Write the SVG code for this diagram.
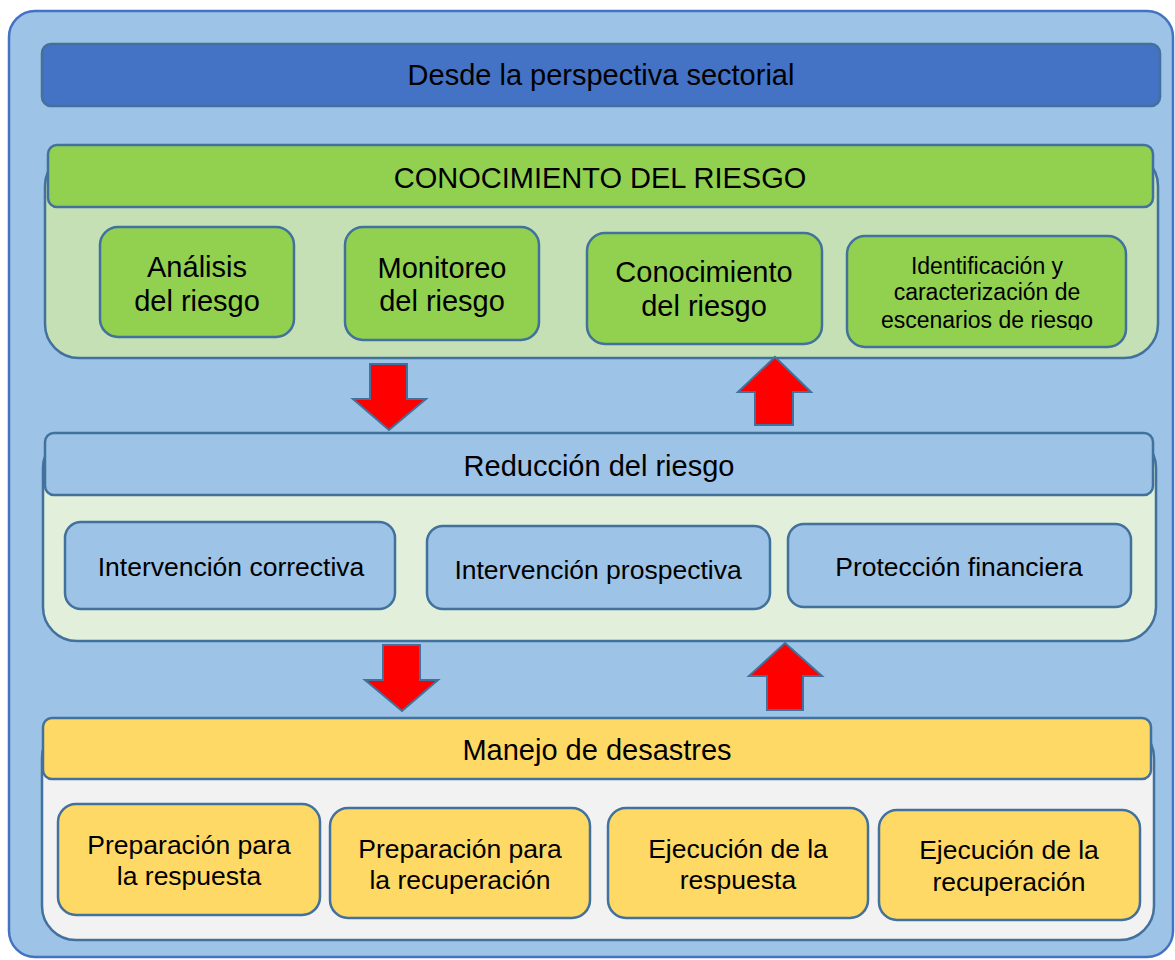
<svg xmlns="http://www.w3.org/2000/svg" width="1175" height="960" viewBox="0 0 1175 960">
<style>
text{font-family:"Liberation Sans",Arial,sans-serif;fill:#000;text-anchor:middle}
.h{font-size:29px}
.t{font-size:26.5px}
.s{font-size:23px}
.box{stroke:#41719C;stroke-width:2.5}
.arrow{fill:#FF0000;stroke:#41719C;stroke-width:2}
</style>
<defs>
<clipPath id="clipId"><rect x="847" y="236" width="280" height="94"/></clipPath>
</defs>
<rect x="9" y="11" width="1164" height="946" rx="26" fill="#9DC3E6" stroke="#4472C4" stroke-width="2.5"/>
<g id="title">
<rect class="box" x="42" y="44" width="1118" height="62" rx="9" fill="#4472C4"/>
<text class="h" x="601" y="85">Desde la perspectiva sectorial</text>
</g>
<g id="conocimiento">
<rect class="box" x="45" y="152" width="1113" height="206" rx="34" fill="#C5E0B4"/>
<rect class="box" x="48" y="145" width="1105" height="62" rx="9" fill="#92D050"/>
<text class="h" x="600" y="188">CONOCIMIENTO DEL RIESGO</text>
</g>
<g id="analisis">
<rect class="box" x="100" y="227" width="194" height="110" rx="18" fill="#92D050"/>
<text class="h" x="197" y="277">Análisis</text>
<text class="h" x="197" y="311">del riesgo</text>
</g>
<g id="monitoreo">
<rect class="box" x="345" y="227" width="194" height="113" rx="18" fill="#92D050"/>
<text class="h" x="442" y="278">Monitoreo</text>
<text class="h" x="442" y="311">del riesgo</text>
</g>
<g id="conoc_riesgo">
<rect class="box" x="587" y="233" width="235" height="111" rx="18" fill="#92D050"/>
<text class="h" x="704" y="282">Conocimiento</text>
<text class="h" x="704" y="316">del riesgo</text>
</g>
<g id="identificacion">
<rect class="box" x="847" y="236" width="279" height="111" rx="18" fill="#92D050"/>
<g clip-path="url(#clipId)">
<text class="s" x="987" y="274">Identificación y</text>
<text class="s" x="987" y="300">caracterización de</text>
<text class="s" x="987" y="328">escenarios de riesgo</text>
</g>
</g>
<g id="reduccion">
<rect class="box" x="43" y="434" width="1113" height="207" rx="34" fill="#E2EFDA"/>
<rect class="box" x="45" y="433" width="1108" height="62" rx="9" fill="#9DC3E6"/>
<text class="h" x="599" y="476">Reducción del riesgo</text>
</g>
<g id="correctiva">
<rect class="box" x="65" y="522" width="330" height="87" rx="16" fill="#9DC3E6"/>
<text class="t" x="231" y="576">Intervención correctiva</text>
</g>
<g id="prospectiva">
<rect class="box" x="427" y="526" width="343" height="83" rx="16" fill="#9DC3E6"/>
<text class="t" x="598" y="579">Intervención prospectiva</text>
</g>
<g id="financiera">
<rect class="box" x="788" y="524" width="343" height="83" rx="16" fill="#9DC3E6"/>
<text class="t" x="959" y="576">Protección financiera</text>
</g>
<g id="manejo">
<rect class="box" x="42" y="724" width="1112" height="216" rx="34" fill="#F2F2F2"/>
<rect class="box" x="43" y="718" width="1108" height="61" rx="9" fill="#FFD966"/>
<text class="h" x="597" y="760">Manejo de desastres</text>
</g>
<g id="prep_respuesta">
<rect class="box" x="58" y="804" width="262" height="111" rx="18" fill="#FFD966"/>
<text class="t" x="189" y="854">Preparación para</text>
<text class="t" x="189" y="885">la respuesta</text>
</g>
<g id="prep_recuperacion">
<rect class="box" x="330" y="808" width="260" height="110" rx="18" fill="#FFD966"/>
<text class="t" x="460" y="858">Preparación para</text>
<text class="t" x="460" y="889">la recuperación</text>
</g>
<g id="ejec_respuesta">
<rect class="box" x="608" y="808" width="260" height="110" rx="18" fill="#FFD966"/>
<text class="t" x="738" y="858">Ejecución de la</text>
<text class="t" x="738" y="889">respuesta</text>
</g>
<g id="ejec_recuperacion">
<rect class="box" x="879" y="810" width="261" height="110" rx="18" fill="#FFD966"/>
<text class="t" x="1009" y="859">Ejecución de la</text>
<text class="t" x="1009" y="891">recuperación</text>
</g>
<g id="connectors">
<polygon class="arrow" points="370,364 407,364 407,399 426,399 389,430 353,399 370,399"/>
<polygon class="arrow" points="775,357 811,392 793,392 793,425 755,425 755,392 738,392"/>
<polygon class="arrow" points="383,645 420,645 420,680 438,680 402,711 365,680 383,680"/>
<polygon class="arrow" points="785,643 822,676 803,676 803,710 767,710 767,676 749,676"/>
</g>
</svg>
